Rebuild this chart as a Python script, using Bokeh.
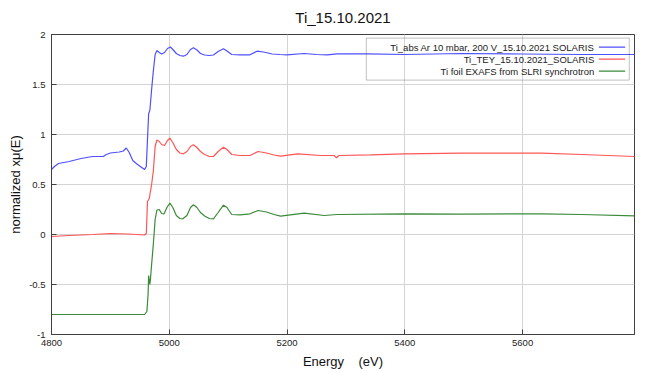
from bokeh.plotting import figure
from bokeh.models import Range1d, FixedTicker, BoxAnnotation, Label
from bokeh.embed import file_html
from bokeh.resources import INLINE

# ---------------- data ----------------
title_text = "Ti_15.10.2021"
x_label = "Energy\u00a0\u00a0\u00a0\u00a0(eV)"
y_label = "normalized x\u03bc(E)"
x_ticks = [4800, 5000, 5200, 5400, 5600]
x_tick_labels = ["4800", "5000", "5200", "5400", "5600"]
y_ticks = [-1, -0.5, 0, 0.5, 1, 1.5, 2]
y_tick_labels = ["-1", "-0.5", "0", "0.5", "1", "1.5", "2"]
x_limits = [4800, 5790]
y_limits = [-1, 2]

names = ["Ti_abs Ar 10 mbar, 200 V_15.10.2021 SOLARIS",
         "Ti_TEY_15.10.2021_SOLARIS",
         "Ti foil EXAFS from SLRI synchrotron"]

abs_E = [4800, 4805, 4812, 4830, 4850, 4870, 4888, 4893, 4900, 4915, 4922, 4927,
         4932, 4938, 4945, 4952, 4958, 4961, 4963, 4965, 4967, 4970, 4973, 4976,
         4979, 4983, 4987, 4992, 4997, 5002, 5006, 5012, 5018, 5024, 5030, 5036,
         5041, 5047, 5053, 5060, 5068, 5075, 5083, 5092, 5098, 5106, 5120, 5137,
         5149, 5160, 5175, 5188, 5200, 5229, 5250, 5268, 5285, 5336, 5400, 5496,
         5600, 5700, 5790]
abs_mu = [0.65, 0.68, 0.71, 0.73, 0.76, 0.78, 0.78, 0.80, 0.815, 0.825, 0.835, 0.865,
          0.82, 0.74, 0.705, 0.675, 0.65, 0.68, 0.95, 1.21, 1.24, 1.45, 1.64, 1.80,
          1.84, 1.82, 1.805, 1.82, 1.86, 1.875, 1.85, 1.81, 1.79, 1.783, 1.80, 1.85,
          1.867, 1.845, 1.81, 1.795, 1.79, 1.795, 1.83, 1.857, 1.835, 1.80, 1.797, 1.797,
          1.833, 1.825, 1.805, 1.80, 1.797, 1.81, 1.80, 1.797, 1.807, 1.807, 1.80, 1.81,
          1.805, 1.80, 1.80]

tey_E = [4800, 4830, 4870, 4900, 4930, 4958, 4961, 4963, 4966, 4970, 4973, 4976,
         4979, 4983, 4987, 4992, 4997, 5001, 5006, 5012, 5018, 5024, 5030, 5036,
         5041, 5047, 5053, 5060, 5068, 5075, 5083, 5092, 5098, 5106, 5120, 5137,
         5151, 5165, 5178, 5189, 5218, 5257, 5280, 5284, 5288, 5342, 5399, 5496,
         5632, 5700, 5790]
tey_mu = [-0.02, -0.01, 0.0, 0.01, 0.005, -0.005, 0.01, 0.33, 0.36, 0.50, 0.64, 0.88,
          0.945, 0.93, 0.90, 0.89, 0.94, 0.963, 0.92, 0.85, 0.815, 0.807, 0.83, 0.88,
          0.897, 0.87, 0.83, 0.80, 0.78, 0.78, 0.83, 0.873, 0.85, 0.80, 0.79, 0.79,
          0.83, 0.815, 0.795, 0.783, 0.807, 0.79, 0.79, 0.767, 0.79, 0.797, 0.807, 0.813,
          0.813, 0.80, 0.78]

foil_E = [4800, 4900, 4958, 4962, 4964, 4965, 4967, 4968, 4970, 4973, 4976, 4979,
          4983, 4987, 4991, 4996, 5001, 5006, 5012, 5018, 5023, 5030, 5036, 5041,
          5047, 5053, 5060, 5068, 5075, 5083, 5092, 5098, 5106, 5120, 5137, 5151,
          5165, 5178, 5189, 5229, 5263, 5285, 5400, 5496, 5632, 5700, 5790]
foil_mu = [-0.80, -0.80, -0.80, -0.77, -0.60, -0.41, -0.50, -0.45, -0.30, -0.09, 0.15, 0.245,
           0.25, 0.21, 0.205, 0.27, 0.313, 0.27, 0.19, 0.16, 0.157, 0.19, 0.27, 0.297,
           0.27, 0.22, 0.185, 0.16, 0.157, 0.22, 0.293, 0.27, 0.20, 0.197, 0.207, 0.24,
           0.225, 0.20, 0.183, 0.213, 0.19, 0.20, 0.207, 0.203, 0.207, 0.20, 0.187]

colors = ["#4f4fff", "#ff5555", "#3a8a3a"]
FONT = "Liberation Sans"

# ---------------- figure ----------------
p = figure(width=650, height=373, output_backend="svg", toolbar_location=None,
           x_range=Range1d(*x_limits), y_range=Range1d(*y_limits),
           min_border_left=51, min_border_right=16, min_border_top=34,
           min_border_bottom=39, title=title_text)

p.title.align = "center"
p.title.vertical_align = "top"
p.title.text_font = FONT
p.title.text_font_size = "15px"
p.title.text_font_style = "normal"
p.title.text_color = "#111111"
p.title.standoff = 14

p.outline_line_color = "#404040"
p.outline_line_width = 1
p.background_fill_color = "white"
p.border_fill_color = "white"

xt = FixedTicker(ticks=x_ticks)
yt = FixedTicker(ticks=y_ticks)
p.xaxis.ticker = xt
p.yaxis.ticker = yt
p.xaxis.major_label_overrides = dict(zip(x_ticks, x_tick_labels))
p.yaxis.major_label_overrides = dict(zip(y_ticks, y_tick_labels))

for ax in (p.xaxis, p.yaxis):
    ax.axis_line_color = "#404040"
    ax.major_tick_line_color = "#404040"
    ax.major_tick_in = 5
    ax.major_tick_out = 0
    ax.minor_tick_line_color = None
    ax.major_label_text_font = FONT
    ax.major_label_text_font_size = "9.5px"
    ax.major_label_text_color = "#222222"
    ax.axis_label_text_font = FONT
    ax.axis_label_text_font_size = "13px"
    ax.axis_label_text_font_style = "normal"
    ax.axis_label_text_color = "#111111"

p.xaxis.major_label_standoff = 5
p.yaxis.major_label_standoff = 6
p.xaxis.axis_label = x_label
p.yaxis.axis_label = y_label
p.xaxis.axis_label_standoff = 5
p.yaxis.axis_label_standoff = 3

p.xgrid.ticker = xt
p.ygrid.ticker = yt
p.xgrid.grid_line_color = "#d4d4d4"
p.ygrid.grid_line_color = "#d4d4d4"

# ---------------- curves ----------------
p.line(abs_E, abs_mu, line_color=colors[0], line_width=1.2)
p.line(tey_E, tey_mu, line_color=colors[1], line_width=1.2)
p.line(foil_E, foil_mu, line_color=colors[2], line_width=1.2)

# ---------------- legend (gnuplot style: text then sample) ----------------
def fx(f):
    return x_limits[0] + f * (x_limits[1] - x_limits[0])

def fy(f):
    return y_limits[0] + f * (y_limits[1] - y_limits[0])

p.add_layout(BoxAnnotation(left=fx(0.540), right=fx(0.991), bottom=fy(0.848), top=fy(0.988),
                           fill_alpha=0, line_color="#333333", line_width=1))
rows = [0.958, 0.918, 0.878]
for name, col, r in zip(names, colors, rows):
    p.add_layout(Label(x=fx(0.931), y=fy(r), text=name, text_align="right",
                       text_baseline="middle", text_font=FONT, text_font_size="9.5px",
                       text_color="#222222"))
    p.line([fx(0.939), fx(0.984)], [fy(r), fy(r)], line_color=col, line_width=1.2)

open("out.html", "w").write(file_html(p, INLINE))
